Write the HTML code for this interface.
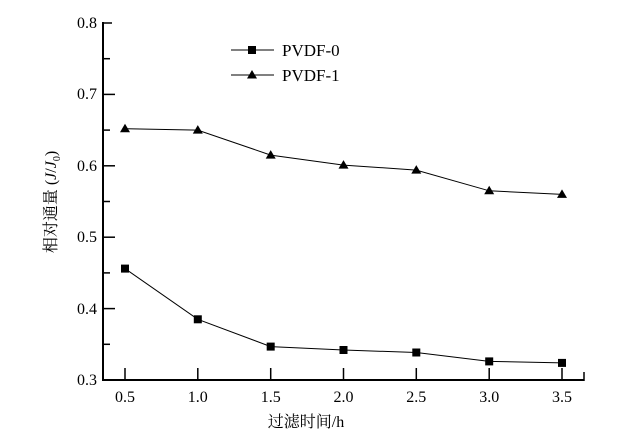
<!DOCTYPE html>
<html><head><meta charset="utf-8"><style>
html,body{margin:0;padding:0;background:#fff;}
svg{display:block;}
</style></head><body>
<svg width="644" height="439" viewBox="0 0 644 439" xmlns="http://www.w3.org/2000/svg">
<g stroke="#000" stroke-width="2" fill="none">
<line x1="103" y1="22" x2="103" y2="381"/>
<line x1="102" y1="380" x2="584" y2="380"/>
</g>
<g stroke="#000" stroke-width="1.5">
<line x1="103" y1="23" x2="112" y2="23"/>
<line x1="103" y1="58.7" x2="110" y2="58.7"/>
<line x1="103" y1="94.4" x2="115" y2="94.4"/>
<line x1="103" y1="130.1" x2="110" y2="130.1"/>
<line x1="103" y1="165.8" x2="115" y2="165.8"/>
<line x1="103" y1="201.5" x2="110" y2="201.5"/>
<line x1="103" y1="237.2" x2="115" y2="237.2"/>
<line x1="103" y1="272.9" x2="110" y2="272.9"/>
<line x1="103" y1="308.6" x2="115" y2="308.6"/>
<line x1="103" y1="344.3" x2="110" y2="344.3"/>
<line x1="125" y1="380" x2="125" y2="368"/>
<line x1="197.8" y1="380" x2="197.8" y2="368"/>
<line x1="270.7" y1="380" x2="270.7" y2="368"/>
<line x1="343.5" y1="380" x2="343.5" y2="368"/>
<line x1="416.3" y1="380" x2="416.3" y2="368"/>
<line x1="489.2" y1="380" x2="489.2" y2="368"/>
<line x1="562" y1="380" x2="562" y2="368"/>
<line x1="584" y1="381" x2="584" y2="372"/>
</g>
<g font-family="'Liberation Serif', 'Noto Serif CJK SC', serif" fill="#000">
<g font-size="16" text-anchor="end">
<text x="97" y="28">0.8</text>
<text x="97" y="99">0.7</text>
<text x="97" y="171">0.6</text>
<text x="97" y="242">0.5</text>
<text x="97" y="314">0.4</text>
<text x="97" y="385">0.3</text>
</g>
<g font-size="16" text-anchor="middle">
<text x="125" y="402">0.5</text>
<text x="197.8" y="402">1.0</text>
<text x="270.7" y="402">1.5</text>
<text x="343.5" y="402">2.0</text>
<text x="416.3" y="402">2.5</text>
<text x="489.2" y="402">3.0</text>
<text x="562" y="402">3.5</text>
<text x="306" y="427" font-size="16">过滤时间/h</text>
</g>
<text transform="translate(56,202) rotate(-90)" text-anchor="middle" font-size="16">相对通量 (<tspan font-style="italic">J</tspan>/<tspan font-style="italic">J</tspan><tspan font-size="10" dy="4">0</tspan><tspan dy="-4">)</tspan></text>
<text x="282" y="56" font-size="17">PVDF-0</text>
<text x="282" y="81" font-size="17">PVDF-1</text>
</g>
<polyline fill="none" stroke="#000" stroke-width="1" points="125,268.6 197.8,319.3 270.7,346.6 343.5,350.0 416.3,352.5 489.2,361.4 562,362.9"/>
<polyline fill="none" stroke="#000" stroke-width="1" points="125,128.7 197.8,130.1 270.7,155.1 343.5,165.1 416.3,170.1 489.2,190.8 562,194.4"/>
<g fill="#000">
<rect x="121" y="264.6" width="8" height="8"/>
<rect x="193.8" y="315.3" width="8" height="8"/>
<rect x="266.7" y="342.6" width="8" height="8"/>
<rect x="339.5" y="346" width="8" height="8"/>
<rect x="412.3" y="348.5" width="8" height="8"/>
<rect x="485.2" y="357.4" width="8" height="8"/>
<rect x="558" y="358.9" width="8" height="8"/>
<polygon points="125,123.7 130,132.2 120,132.2"/>
<polygon points="197.8,125.1 202.8,133.6 192.8,133.6"/>
<polygon points="270.7,150.1 275.7,158.6 265.7,158.6"/>
<polygon points="343.5,160.1 348.5,168.6 338.5,168.6"/>
<polygon points="416.3,165.1 421.3,173.6 411.3,173.6"/>
<polygon points="489.2,185.8 494.2,194.3 484.2,194.3"/>
<polygon points="562,189.4 567,197.9 557,197.9"/>
</g>
<line x1="231" y1="50" x2="274" y2="50" stroke="#000" stroke-width="1"/>
<rect x="248" y="46" width="8" height="8" fill="#000"/>
<line x1="231" y1="75" x2="274" y2="75" stroke="#000" stroke-width="1"/>
<polygon points="252,70 257,78.5 247,78.5" fill="#000"/>
</svg>
</body></html>
